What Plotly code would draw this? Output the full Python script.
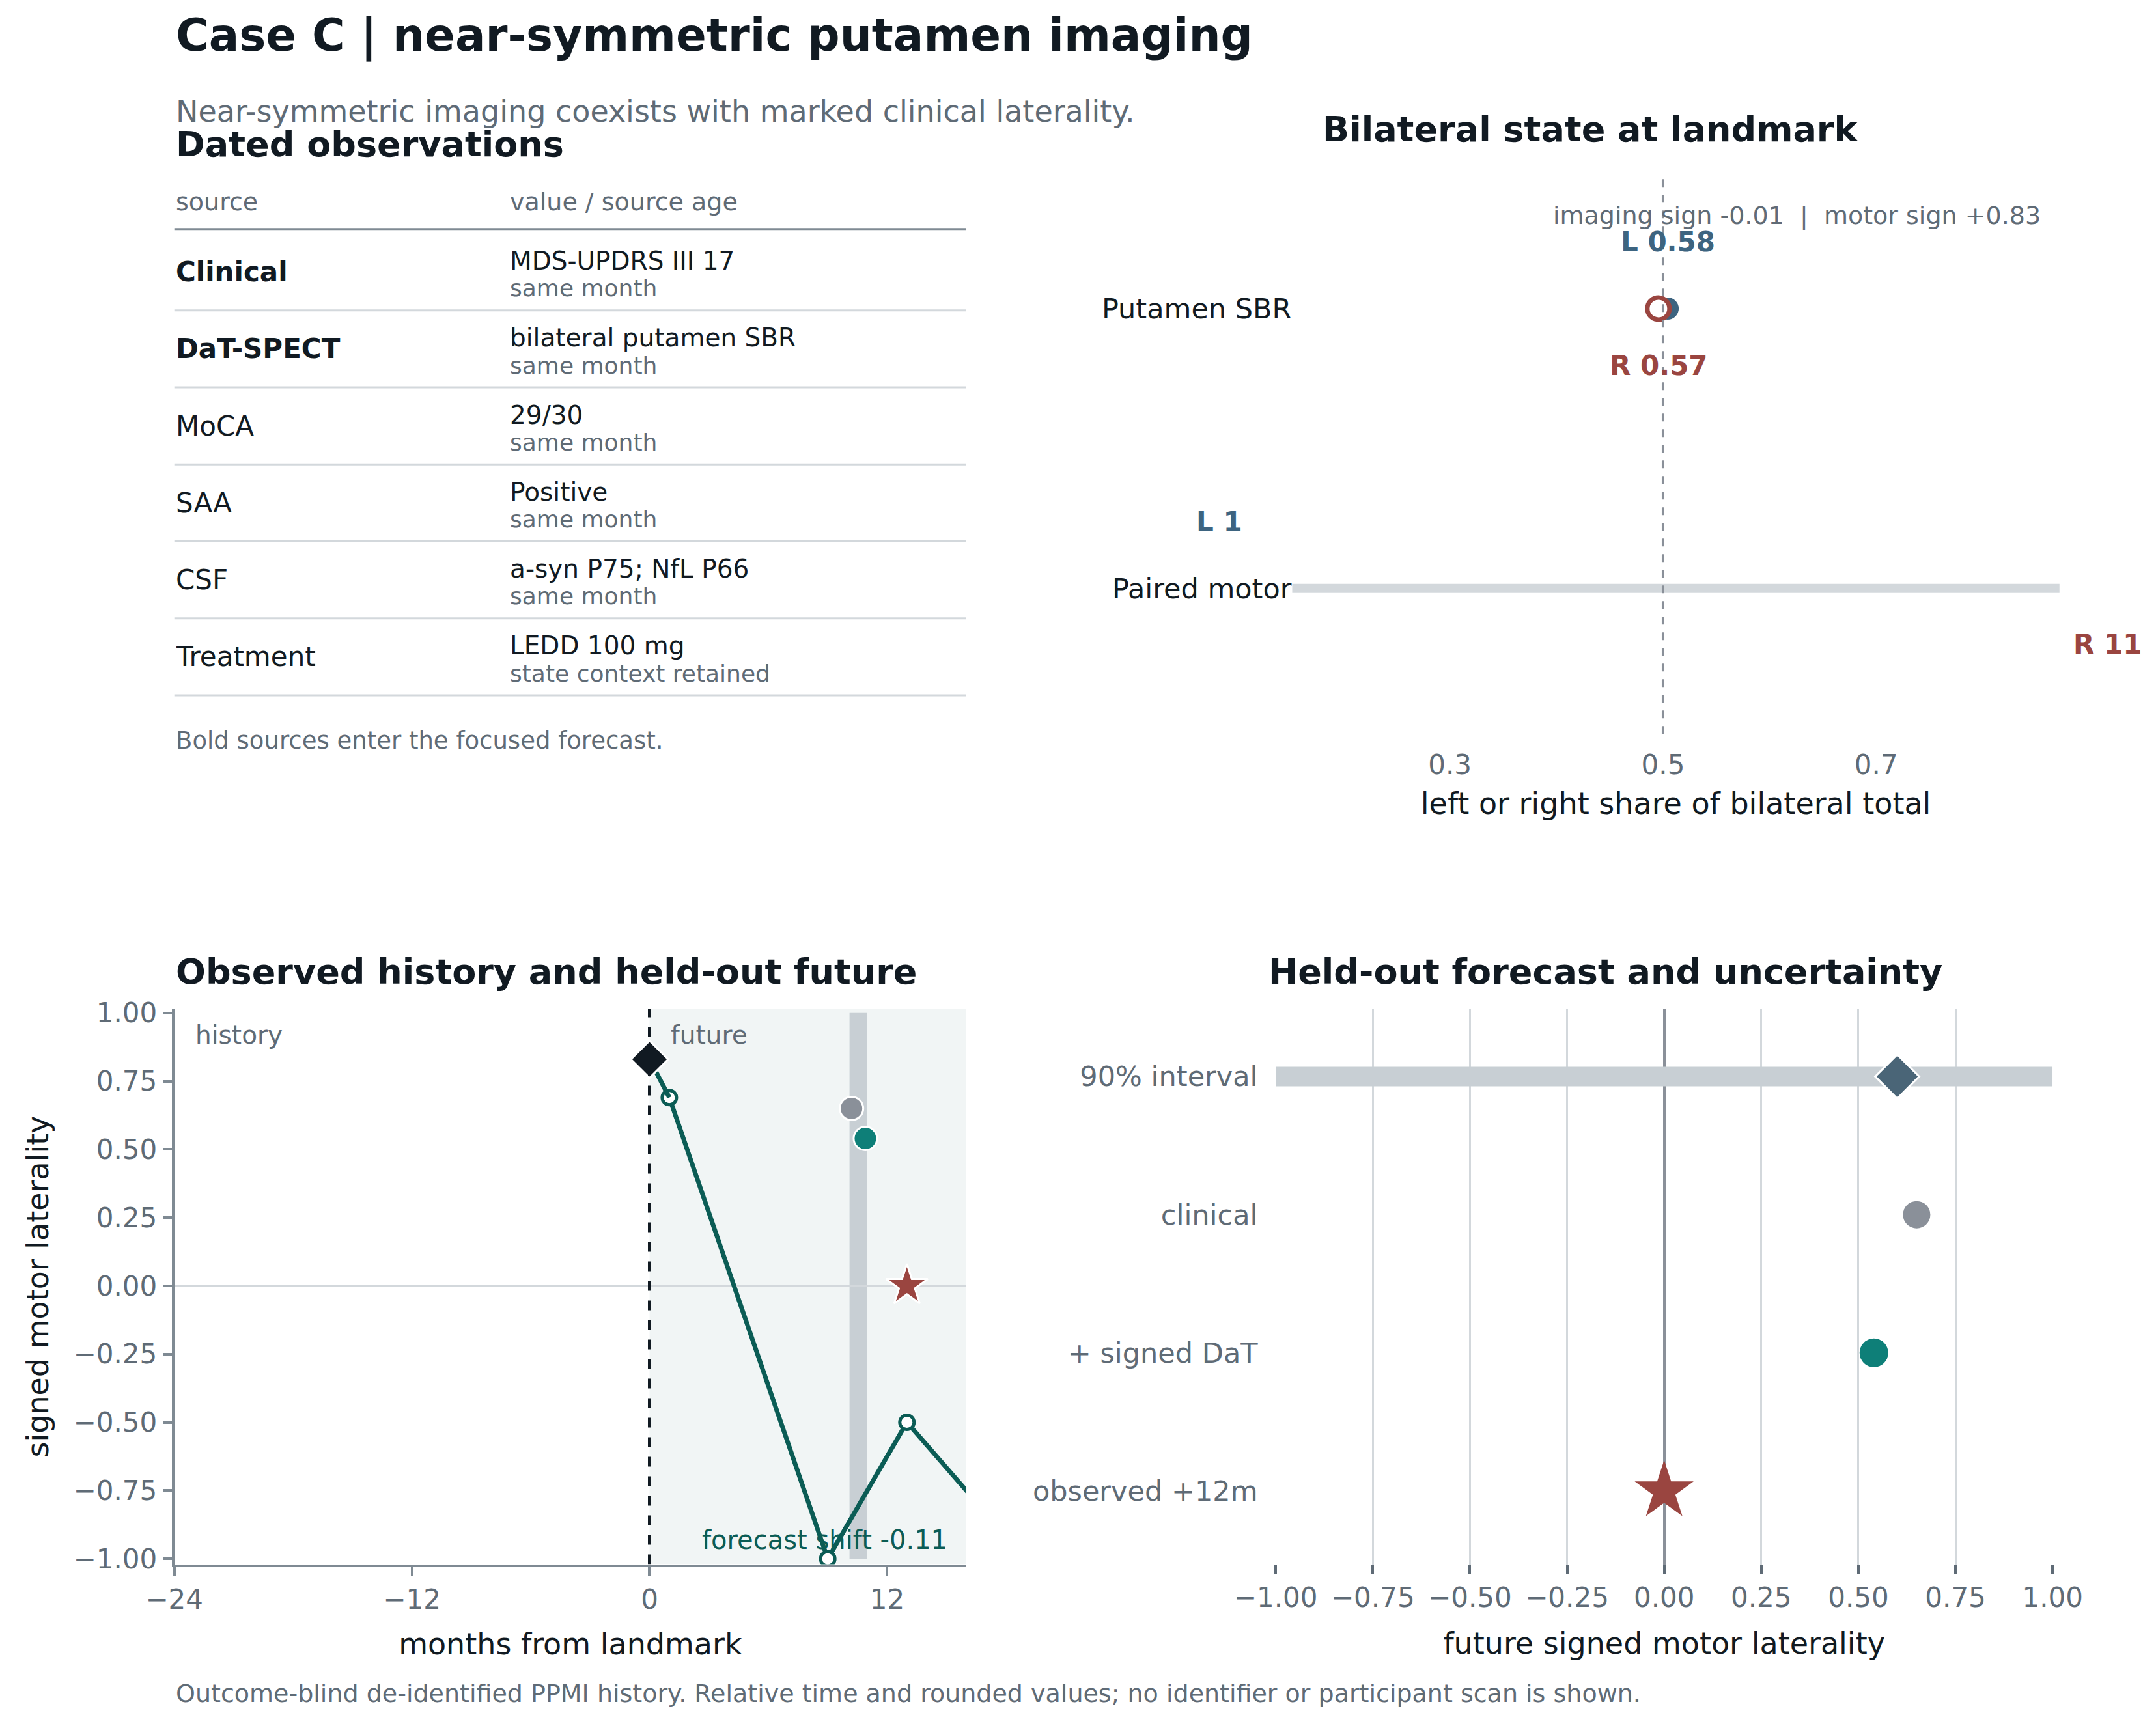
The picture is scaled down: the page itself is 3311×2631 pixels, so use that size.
import plotly.graph_objects as go

# ---- data ----
table_sources = ["Clinical", "DaT-SPECT", "MoCA", "SAA", "CSF", "Treatment"]
table_bold = [True, True, False, False, False, False]
table_values = ["MDS-UPDRS III 17", "bilateral putamen SBR", "29/30", "Positive",
                "a-syn P75; NfL P66", "LEDD 100 mg"]
table_ages = ["same month", "same month", "same month", "same month",
              "same month", "state context retained"]

sbr_left, sbr_right = 0.58, 0.57
motor_left, motor_right = 1, 11

hist_months = [0, 1, 9, 13, 19]
hist_values = [0.83, 0.69, -1.0, -0.5, -1.0]
clinical_pred = (10.2, 0.65)
dat_pred = (10.9, 0.54)
observed_12m = (13, 0.0)
interval_band = (10.1, 11.0)

fc_labels = ["observed +12m", "+ signed DaT", "clinical", "90% interval"]
fc_interval = (-1.0, 1.0)
fc_center = 0.6
fc_clinical = 0.65
fc_dat = 0.54
fc_observed = 0.0

DARK = "#111a22"
GRAY = "#5f6b76"
BLUE = "#3d6480"
RED = "#9a4540"
TEAL = "#0e7f78"
LINE = "#0b5c55"
FONT = "DejaVu Sans"


def X(d):
    return (d - 4) / 1568


def Y(d):
    return 1 - d / 1246


fig = go.Figure()
ann = []
shapes = []


def text(x, y, s, size=40, color=DARK, xanchor="left", bold=False, **kw):
    ann.append(dict(xref="paper", yref="paper", x=X(x), y=Y(y), text=f"<b>{s}</b>" if bold else s,
                    showarrow=False, xanchor=xanchor, yanchor="middle",
                    font=dict(size=size, color=color, family=FONT), **kw))


# ---- titles ----
text(127, 22, "Case C | near-symmetric putamen imaging", size=69, bold=True)
text(127, 77, "Near-symmetric imaging coexists with marked clinical laterality.", size=46, color=GRAY)
text(127, 1228, "Outcome-blind de-identified PPMI history. Relative time and rounded values; no identifier or participant scan is shown.",
     size=38, color=GRAY)

# ---- table ----
text(127, 101, "Dated observations", size=54, bold=True)
text(127, 143, "source", size=38, color=GRAY)
text(370, 143, "value / source age", size=38, color=GRAY)
shapes.append(dict(type="line", xref="paper", yref="paper", x0=X(127), x1=X(703), y0=Y(163), y1=Y(163),
                   line=dict(color="#7f8a93", width=4)))
for i, (src, b, val, age) in enumerate(zip(table_sources, table_bold, table_values, table_ages)):
    yc = 194 + 56 * i
    text(127, yc, src, size=42, bold=b)
    text(370, yc - 8, val, size=39)
    text(370, yc + 12, age, size=36, color=GRAY)
    shapes.append(dict(type="line", xref="paper", yref="paper", x0=X(127), x1=X(703),
                       y0=Y(yc + 28), y1=Y(yc + 28), line=dict(color="#d3d8dc", width=3)))
text(127, 535, "Bold sources enter the focused forecast.", size=37, color=GRAY)

# ---- bilateral state ----
sbr_tot = sbr_left + sbr_right
m_tot = motor_left + motor_right
l_share = sbr_left / sbr_tot
r_share = sbr_right / sbr_tot
ml = motor_left / m_tot
mr = motor_right / m_tot
fig.add_trace(go.Scatter(x=[ml, mr], y=[0, 0], mode="lines", line=dict(color="#d3d8dc", width=14),
                         xaxis="x", yaxis="y", hoverinfo="skip"))
fig.add_trace(go.Scatter(x=[l_share], y=[1], mode="markers", marker=dict(size=34, color=BLUE),
                         xaxis="x", yaxis="y"))
fig.add_trace(go.Scatter(x=[r_share], y=[1], mode="markers",
                         marker=dict(size=34, color="white", line=dict(color=RED, width=7)),
                         xaxis="x", yaxis="y"))
shapes.append(dict(type="line", xref="x", yref="paper", x0=0.5, x1=0.5, y0=Y(530), y1=Y(125),
                   line=dict(color="#8a9099", width=4, dash="dash")))
# bilateral axis: 0.5 at 1210px, 0.2 per 155px (reference pixels)
for x, yy, s, c in [(l_share, 172, f"L {sbr_left:.2f}", BLUE), (r_share, 262, f"R {sbr_right:.2f}", RED),
                    (ml, 376, f"L {motor_left}", BLUE), (mr, 465, f"R {motor_right}", RED)]:
    px = 1210 + (x - 0.5) / 0.2 * 155
    text(px, yy, s, size=42, color=c, xanchor="center", bold=True)
text(1307, 153, "imaging sign -0.01  |  motor sign +0.83", size=38, color=GRAY, xanchor="center")
text(1157, 90, "Bilateral state at landmark", size=54, bold=True, xanchor="center")

# ---- history ----
fig.add_shape(type="rect", xref="x2", yref="y2", x0=0, x1=16, y0=-1.02, y1=1.015,
              fillcolor="#f1f5f5", line_width=0, layer="below")
fig.add_shape(type="rect", xref="x2", yref="y2", x0=interval_band[0], x1=interval_band[1], y0=-1, y1=1,
              fillcolor="#c8cfd4", line_width=0, layer="below")
fig.add_shape(type="line", xref="x2", yref="y2", x0=-24, x1=16, y0=0, y1=0,
              line=dict(color="#d3d8dc", width=4), layer="below")
fig.add_shape(type="line", xref="x2", yref="y2", x0=0, x1=0, y0=-1.02, y1=1.015,
              line=dict(color=DARK, width=5, dash="dash"))
fig.add_trace(go.Scatter(x=hist_months[1:], y=hist_values[1:], mode="lines+markers",
                         line=dict(color=LINE, width=7),
                         marker=dict(size=22, color="white", line=dict(color=LINE, width=5)),
                         xaxis="x2", yaxis="y2"))
fig.add_trace(go.Scatter(x=hist_months[:2], y=hist_values[:2], mode="lines", line=dict(color=LINE, width=7),
                         xaxis="x2", yaxis="y2"))
fig.add_trace(go.Scatter(x=[hist_months[0]], y=[hist_values[0]], mode="markers",
                         marker=dict(size=44, symbol="diamond", color=DARK, line=dict(color="white", width=3)),
                         xaxis="x2", yaxis="y2", cliponaxis=False))
fig.add_trace(go.Scatter(x=[clinical_pred[0]], y=[clinical_pred[1]], mode="markers",
                         marker=dict(size=36, color="#8a9099", line=dict(color="white", width=3)),
                         xaxis="x2", yaxis="y2"))
fig.add_trace(go.Scatter(x=[dat_pred[0]], y=[dat_pred[1]], mode="markers",
                         marker=dict(size=36, color=TEAL, line=dict(color="white", width=3)),
                         xaxis="x2", yaxis="y2"))
fig.add_trace(go.Scatter(x=[observed_12m[0]], y=[observed_12m[1]], mode="markers",
                         marker=dict(size=48, symbol="star", color=RED, line=dict(color="white", width=3)),
                         xaxis="x2", yaxis="y2"))
ann.append(dict(xref="x2", yref="y2", x=-23, y=0.92, text="history", showarrow=False, xanchor="left",
                font=dict(size=39, color=GRAY, family=FONT)))
ann.append(dict(xref="x2", yref="y2", x=1, y=0.92, text="future", showarrow=False, xanchor="left",
                font=dict(size=39, color=GRAY, family=FONT)))
ann.append(dict(xref="x2", yref="y2", x=15.1, y=-0.93, text="forecast shift -0.11", showarrow=False,
                xanchor="right", font=dict(size=40, color=LINE, family=FONT)))
text(127, 703, "Observed history and held-out future", size=54, bold=True)

# ---- forecast ----
fig.add_trace(go.Scatter(x=list(fc_interval), y=[3, 3], mode="lines", line=dict(color="#c8cfd4", width=30),
                         xaxis="x3", yaxis="y3"))
fig.add_trace(go.Scatter(x=[fc_center], y=[3], mode="markers",
                         marker=dict(size=52, symbol="diamond", color="#4a6577", line=dict(color="white", width=3)),
                         xaxis="x3", yaxis="y3"))
fig.add_trace(go.Scatter(x=[fc_clinical], y=[2], mode="markers", marker=dict(size=42, color="#8a9099"),
                         xaxis="x3", yaxis="y3"))
fig.add_trace(go.Scatter(x=[fc_dat], y=[1], mode="markers", marker=dict(size=44, color=TEAL),
                         xaxis="x3", yaxis="y3"))
fig.add_trace(go.Scatter(x=[fc_observed], y=[0], mode="markers", marker=dict(size=68, symbol="star", color=RED),
                         xaxis="x3", yaxis="y3", cliponaxis=False))
text(1168, 703, "Held-out forecast and uncertainty", size=54, bold=True, xanchor="center")

tick = dict(size=42, color=GRAY, family=FONT)
axtitle = dict(size=46, color=DARK, family=FONT)
fig.update_layout(
    width=3311, height=2631, margin=dict(l=0, r=0, t=0, b=0),
    paper_bgcolor="white", plot_bgcolor="white", showlegend=False,
    font=dict(family=FONT),
    annotations=ann, shapes=list(fig.layout.shapes) + shapes,
    xaxis=dict(domain=[X(940), X(1498)], range=[0.152, 0.872], tickvals=[0.3, 0.5, 0.7], automargin=False,
               showgrid=False, zeroline=False, showline=False, tickfont=tick, ticks="outside", ticklen=10,
               tickcolor="white",
               title=dict(text="left or right share of bilateral total", font=axtitle, standoff=20)),
    yaxis=dict(domain=[Y(530), Y(125)], range=[-0.52, 1.47], tickvals=[0, 1], automargin=False,
               ticktext=["Paired motor", "Putamen SBR"], showgrid=False, zeroline=False, showline=False,
               tickfont=dict(size=43, color=DARK, family=FONT), ticks=""),
    xaxis2=dict(domain=[X(127), X(703)], range=[-24, 16], tickvals=[-24, -12, 0, 12], anchor="y2",
                automargin=False,
                showgrid=False, zeroline=False, showline=True, linecolor="#7f8a93", linewidth=4,
                ticks="outside", ticklen=14, tickwidth=4, tickcolor="#7f8a93", tickfont=tick,
                title=dict(text="months from landmark", font=axtitle, standoff=30)),
    yaxis2=dict(domain=[Y(1134), Y(730)], range=[-1.02, 1.015], anchor="x2", automargin=False,
                tickvals=[-1, -0.75, -0.5, -0.25, 0, 0.25, 0.5, 0.75, 1], tickformat=".2f",
                showgrid=False, zeroline=False, showline=True, linecolor="#7f8a93", linewidth=4,
                ticks="outside", ticklen=14, tickwidth=4, tickcolor="#7f8a93", tickfont=tick,
                title=dict(text="signed motor laterality", font=axtitle, standoff=25)),
    xaxis3=dict(domain=[X(928), X(1493)], range=[-1.0, 1.0], anchor="y3", automargin=False,
                tickvals=[-1, -0.75, -0.5, -0.25, 0, 0.25, 0.5, 0.75, 1], tickformat=".2f",
                showgrid=True, gridcolor="#d3d8dc", gridwidth=3, zeroline=True, zerolinecolor="#8a9099",
                zerolinewidth=4, showline=False, ticks="outside", ticklen=14, tickwidth=4, tickcolor="#5f6b76",
                tickfont=tick, title=dict(text="future signed motor laterality", font=axtitle, standoff=30)),
    yaxis3=dict(domain=[Y(1134), Y(730)], range=[-0.53, 3.49], anchor="x3", tickvals=[0, 1, 2, 3],
                automargin=False,
                ticktext=fc_labels, showgrid=False, zeroline=False, showline=False, ticks="outside",
                ticklen=18, tickcolor="white",
                tickfont=dict(size=43, color=GRAY, family=FONT)),
)
fig.write_html("out.html")
